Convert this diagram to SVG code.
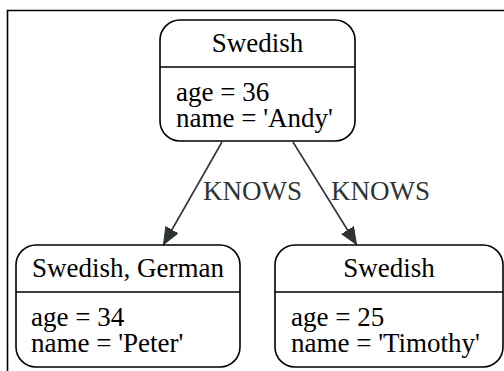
<svg xmlns="http://www.w3.org/2000/svg" width="504" height="371" viewBox="0 0 504 371">
  <style>
    .box { fill: #ffffff; stroke: #000000; stroke-width: 1.6; }
    .sep { stroke: #000000; stroke-width: 1.6; }
    .txt { font-family: "Liberation Serif", "Times New Roman", serif; font-size: 27px; fill: #000000; }
    .mid { text-anchor: middle; }
    .edge { fill: none; stroke: #2e3436; stroke-width: 1.6; }
    .elabel { font-family: "Liberation Serif", "Times New Roman", serif; font-size: 27px; fill: #2e3436; }
  </style>
  <defs>
    <marker id="arrow" markerUnits="userSpaceOnUse" markerWidth="18" markerHeight="15" refX="17" refY="7" orient="auto">
      <path d="M0,0 L17,7 L0,14 z" fill="#2e3436" stroke="#2e3436" stroke-width="1"/>
    </marker>
  </defs>
  <rect width="504" height="371" fill="#ffffff"/>
  <!-- outer frame -->
  <path d="M7.5,371 L7.5,10.5 L504,10.5" fill="none" stroke="#000000" stroke-width="1.6"/>

  <g id="connectors">
    <g id="e1">
      <path class="edge" d="M222,142 L163.5,244.5" marker-end="url(#arrow)"/>
      <text class="elabel" x="203" y="200">KNOWS</text>
    </g>
    <g id="e2">
      <path class="edge" d="M293,142 L356.5,244.5" marker-end="url(#arrow)"/>
      <text class="elabel" x="331" y="200">KNOWS</text>
    </g>
  </g>

  <g id="andy">
    <rect class="box" x="160" y="20" width="195" height="121" rx="20" ry="20"/>
    <line class="sep" x1="160" y1="67" x2="355" y2="67"/>
    <text class="txt mid" x="257.5" y="52">Swedish</text>
    <text class="txt" x="176" y="101">age = 36</text>
    <text class="txt" x="176" y="127">name = 'Andy'</text>
  </g>

  <g id="peter">
    <rect class="box" x="16" y="245" width="224" height="122" rx="20" ry="20"/>
    <line class="sep" x1="16" y1="292" x2="240" y2="292"/>
    <text class="txt mid" x="128" y="277">Swedish, German</text>
    <text class="txt" x="31" y="326">age = 34</text>
    <text class="txt" x="31" y="352">name = 'Peter'</text>
  </g>

  <g id="timothy">
    <rect class="box" x="275" y="245" width="228" height="122" rx="20" ry="20"/>
    <line class="sep" x1="275" y1="292" x2="503" y2="292"/>
    <text class="txt mid" x="389" y="277">Swedish</text>
    <text class="txt" x="291" y="326">age = 25</text>
    <text class="txt" x="291" y="352">name = 'Timothy'</text>
  </g>
</svg>
